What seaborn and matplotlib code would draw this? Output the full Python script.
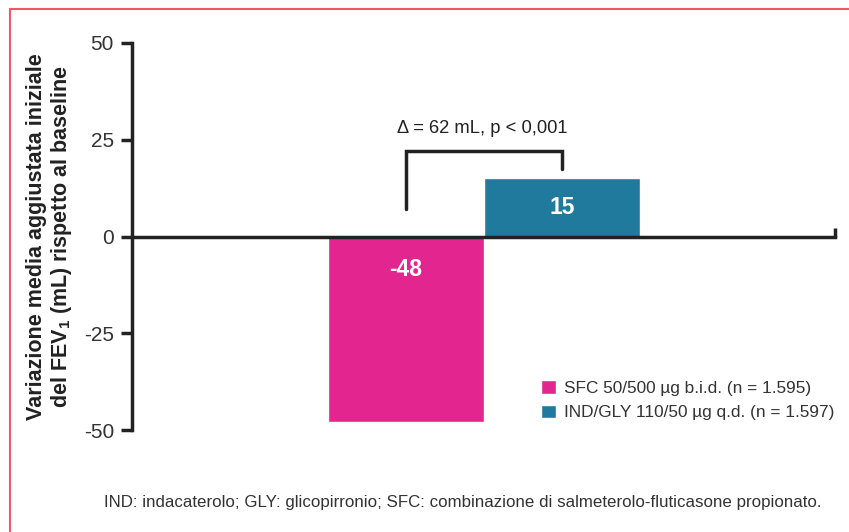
import matplotlib
matplotlib.use('Agg')
import matplotlib.pyplot as plt
import seaborn as sns
import numpy as np

groups = ['SFC 50/500 µg b.i.d. (n = 1.595)', 'IND/GLY 110/50 µg q.d. (n = 1.597)']
values = [-48, 15]
bar_labels = ['-48', '15']
colors = ['#e32590', '#1f7a9e']
yticks = [-50, -25, 0, 25, 50]
delta_text = 'Δ = 62 mL, p < 0,001'
footnote = 'IND: indacaterolo; GLY: glicopirronio; SFC: combinazione di salmeterolo-fluticasone propionato.'

sns.set_theme(style='white')
plt.rcParams['font.family'] = ['Liberation Sans', 'DejaVu Sans']
plt.rcParams['mathtext.fontset'] = 'custom'
plt.rcParams['mathtext.rm'] = 'Liberation Sans'
plt.rcParams['mathtext.bf'] = 'Liberation Sans:bold'

ink = '#222222'
fig = plt.figure(figsize=(8.49, 5.32), dpi=100)
ax = fig.add_axes([132 / 849, 102 / 532, 703 / 849, 387 / 532])

sns.barplot(x=groups, y=values, hue=groups, palette=colors, width=1.0,
            saturation=1, legend=True, ax=ax)

ax.set_ylim(-50, 50)
ax.set_xlim(-1.756, 2.75)
ax.set_yticks(yticks)
ax.set_yticklabels([str(t) for t in yticks], fontsize=15, color='#333333')
ax.set_xticks([])
ax.tick_params(axis='y', direction='out', length=8, width=2.5, color=ink, pad=5, left=True)
ax.set_xlabel('')

for s in ['top', 'right']:
    ax.spines[s].set_visible(False)
ax.spines['left'].set_color(ink)
ax.spines['left'].set_linewidth(2.5)
ax.spines['bottom'].set_position(('data', 0))
ax.spines['bottom'].set_color(ink)
ax.spines['bottom'].set_linewidth(2.5)
ax.spines['bottom'].set_zorder(5)
# small end tick at the right of the zero line
ax.plot([2.75, 2.75], [0, 2.3], color=ink, lw=2.5, clip_on=False, solid_capstyle='butt')

ax.set_ylabel('Variazione media aggiustata iniziale\ndel FEV$_{\\mathbf{1}}$ (mL) rispetto al baseline',
              fontsize=15.5, fontweight='bold', color=ink, labelpad=7, linespacing=1.12)

for i, (v, lab) in enumerate(zip(values, bar_labels)):
    ax.text(i, 7.5 if v > 0 else -8.5, lab, ha='center', va='center',
            color='white', fontsize=16.5, fontweight='bold')

# significance bracket
ax.plot([0, 0, 1, 1], [7, 22, 22, 17.5], color=ink, lw=2.5, solid_joinstyle='miter')
ax.text(0.49, 28, delta_text, ha='center', va='center', fontsize=13.2, color='#222222')

handles, labels = ax.get_legend_handles_labels()
ax.legend(handles, labels, loc='upper left', bbox_to_anchor=(0.56, 0.168),
          frameon=False, fontsize=12.4, handlelength=0.85, handleheight=0.85,
          handletextpad=0.5, labelspacing=0.48, labelcolor='#333333')

fig.text(463 / 849, 29 / 532, footnote, ha='center', va='center', fontsize=12.2, color='#333333')

# red frame
fig.patches.append(plt.Rectangle((10 / 849, -0.1), 1.2, (532 - 9) / 532 + 0.1,
                                 transform=fig.transFigure, fill=False,
                                 edgecolor='#ee5a64', lw=1.5))

fig.savefig('out.png', dpi=100)
